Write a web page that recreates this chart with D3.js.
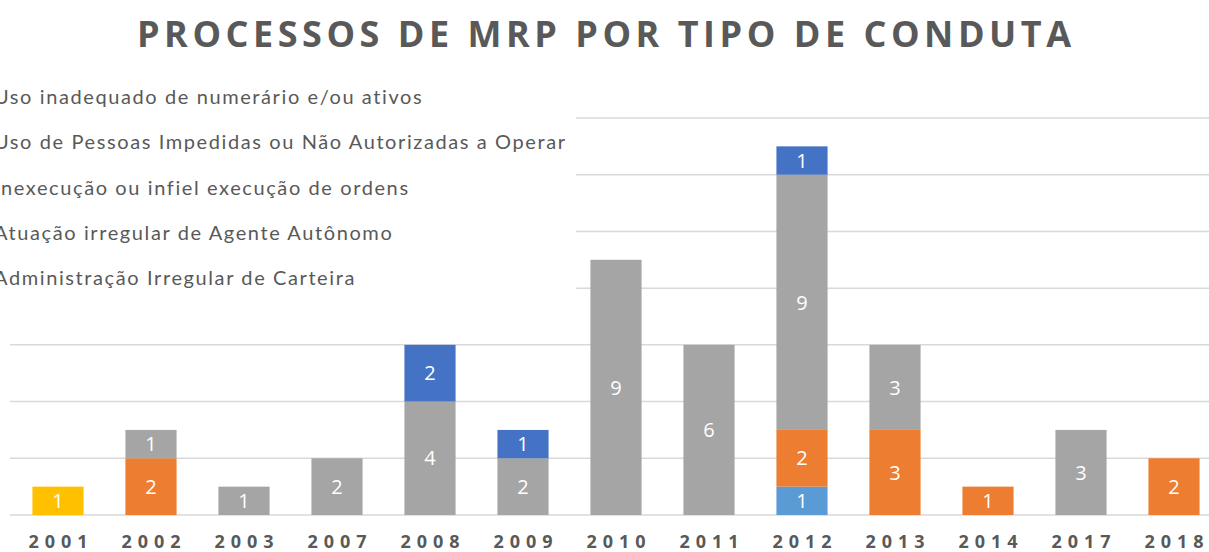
<!DOCTYPE html>
<html>
<head>
<meta charset="utf-8">
<script src="https://cdn.jsdelivr.net/npm/d3@7"></script>
<style>
  body { margin: 0; background: #fff; }
  svg { display: block; font-family: "Open Sans", sans-serif; }
</style>
</head>
<body>
<svg id="chart" width="1209" height="552"></svg>
<script>
// categories (years) and series, stacked bottom -> top
var years = ["2001", "2002", "2003", "2007", "2008", "2009", "2010", "2011", "2012", "2013", "2014", "2017", "2018"];

var seriesNames = [
    "Administração Irregular de Carteira",
    "Atuação irregular de Agente Autônomo",
    "Inexecução ou infiel execução de ordens",
    "Uso de Pessoas Impedidas ou Não Autorizadas a Operar",
    "Uso inadequado de numerário e/ou ativos"
];
var seriesColors = ["#FFC000", "#5B9BD5", "#ED7D31", "#A5A5A5", "#4472C4"];

var yellowVals   = [1, 0, 0, 0, 0, 0, 0, 0, 0, 0, 0, 0, 0];
var lightVals    = [0, 0, 0, 0, 0, 0, 0, 0, 1, 0, 0, 0, 0];
var orangeVals   = [0, 2, 0, 0, 0, 0, 0, 0, 2, 3, 1, 0, 2];
var grayVals     = [0, 1, 1, 2, 4, 2, 9, 6, 9, 3, 0, 3, 0];
var blueVals     = [0, 0, 0, 0, 2, 1, 0, 0, 1, 0, 0, 0, 0];
var allVals = [yellowVals, lightVals, orangeVals, grayVals, blueVals];

var yTicks = [0, 2, 4, 6, 8, 10, 12, 14];

// build rows for d3.stack
var keys = d3.range(allVals.length).map(String);
var rows = years.map(function (y, i) {
    var r = { year: y };
    keys.forEach(function (k) { r[k] = allVals[+k][i]; });
    return r;
});
var stacked = d3.stack().keys(keys)(rows);

var svg = d3.select("#chart");

var x = d3.scaleBand().domain(years).range([11.5, 1220.5]).paddingInner(0.45).paddingOuter(0.225);
var y = d3.scaleLinear().domain([0, 14]).range([515, 118]);

// gridlines
svg.append("g")
    .selectAll("line")
    .data(yTicks)
    .enter()
    .append("line")
    .attr("x1", 10)
    .attr("x2", 1209)
    .attr("y1", function (d) { return y(d); })
    .attr("y2", function (d) { return y(d); })
    .attr("stroke", "#d9d9d9")
    .attr("stroke-width", 1.5);

// bars
var layer = svg.append("g")
    .selectAll("g")
    .data(stacked)
    .enter()
    .append("g")
    .attr("fill", function (d) { return seriesColors[+d.key]; });

layer.selectAll("rect")
    .data(function (d) { return d.filter(function (s) { return s[1] > s[0]; }); })
    .enter()
    .append("rect")
    .attr("x", function (d) { return x(d.data.year); })
    .attr("y", function (d) { return y(d[1]); })
    .attr("width", x.bandwidth())
    .attr("height", function (d) { return y(d[0]) - y(d[1]); });

// value labels
layer.selectAll("text")
    .data(function (d) { return d.filter(function (s) { return s[1] > s[0]; }); })
    .enter()
    .append("text")
    .attr("x", function (d) { return x(d.data.year) + x.bandwidth() / 2; })
    .attr("y", function (d) { return y((d[0] + d[1]) / 2); })
    .attr("dy", "0.36em")
    .attr("text-anchor", "middle")
    .attr("fill", "#fff")
    .style("font-size", "20px")
    .text(function (d) { return d[1] - d[0]; });

// x axis labels
var xAxis = svg.append("g")
    .attr("transform", "translate(0,521)")
    .call(d3.axisBottom(x).tickSize(0).tickPadding(0));
xAxis.select(".domain").remove();
xAxis.selectAll("text")
    .attr("y", 27)
    .attr("dy", 0)
    .attr("dx", "3px")
    .attr("fill", "#595959")
    .style("font-family", "'Open Sans', sans-serif")
    .style("font-size", "18px")
    .style("font-weight", "bold")
    .style("letter-spacing", "6px");

// legend (box covers gridlines, partly off the left edge)
svg.append("rect")
    .attr("x", -20).attr("y", 78)
    .attr("width", 596).attr("height", 222)
    .attr("fill", "#fff");

var legendOrder = [4, 3, 2, 1, 0];
svg.append("g")
    .selectAll("text")
    .data(legendOrder)
    .enter()
    .append("text")
    .attr("x", -6)
    .attr("y", function (d, i) { return 104 + i * 45.3; })
    .attr("fill", "#595959")
    .style("font-family", "Lato, sans-serif")
    .style("font-size", "20px")
    .style("letter-spacing", "1.6px")
    .text(function (d) { return seriesNames[d]; });

// title
svg.append("text")
    .attr("x", 604)
    .attr("y", 47)
    .attr("text-anchor", "middle")
    .attr("fill", "#595959")
    .attr("textLength", 934)
    .attr("lengthAdjust", "spacing")
    .style("font-size", "36px")
    .style("font-weight", "bold")
    .text("PROCESSOS DE MRP POR TIPO DE CONDUTA");
</script>
</body>
</html>
